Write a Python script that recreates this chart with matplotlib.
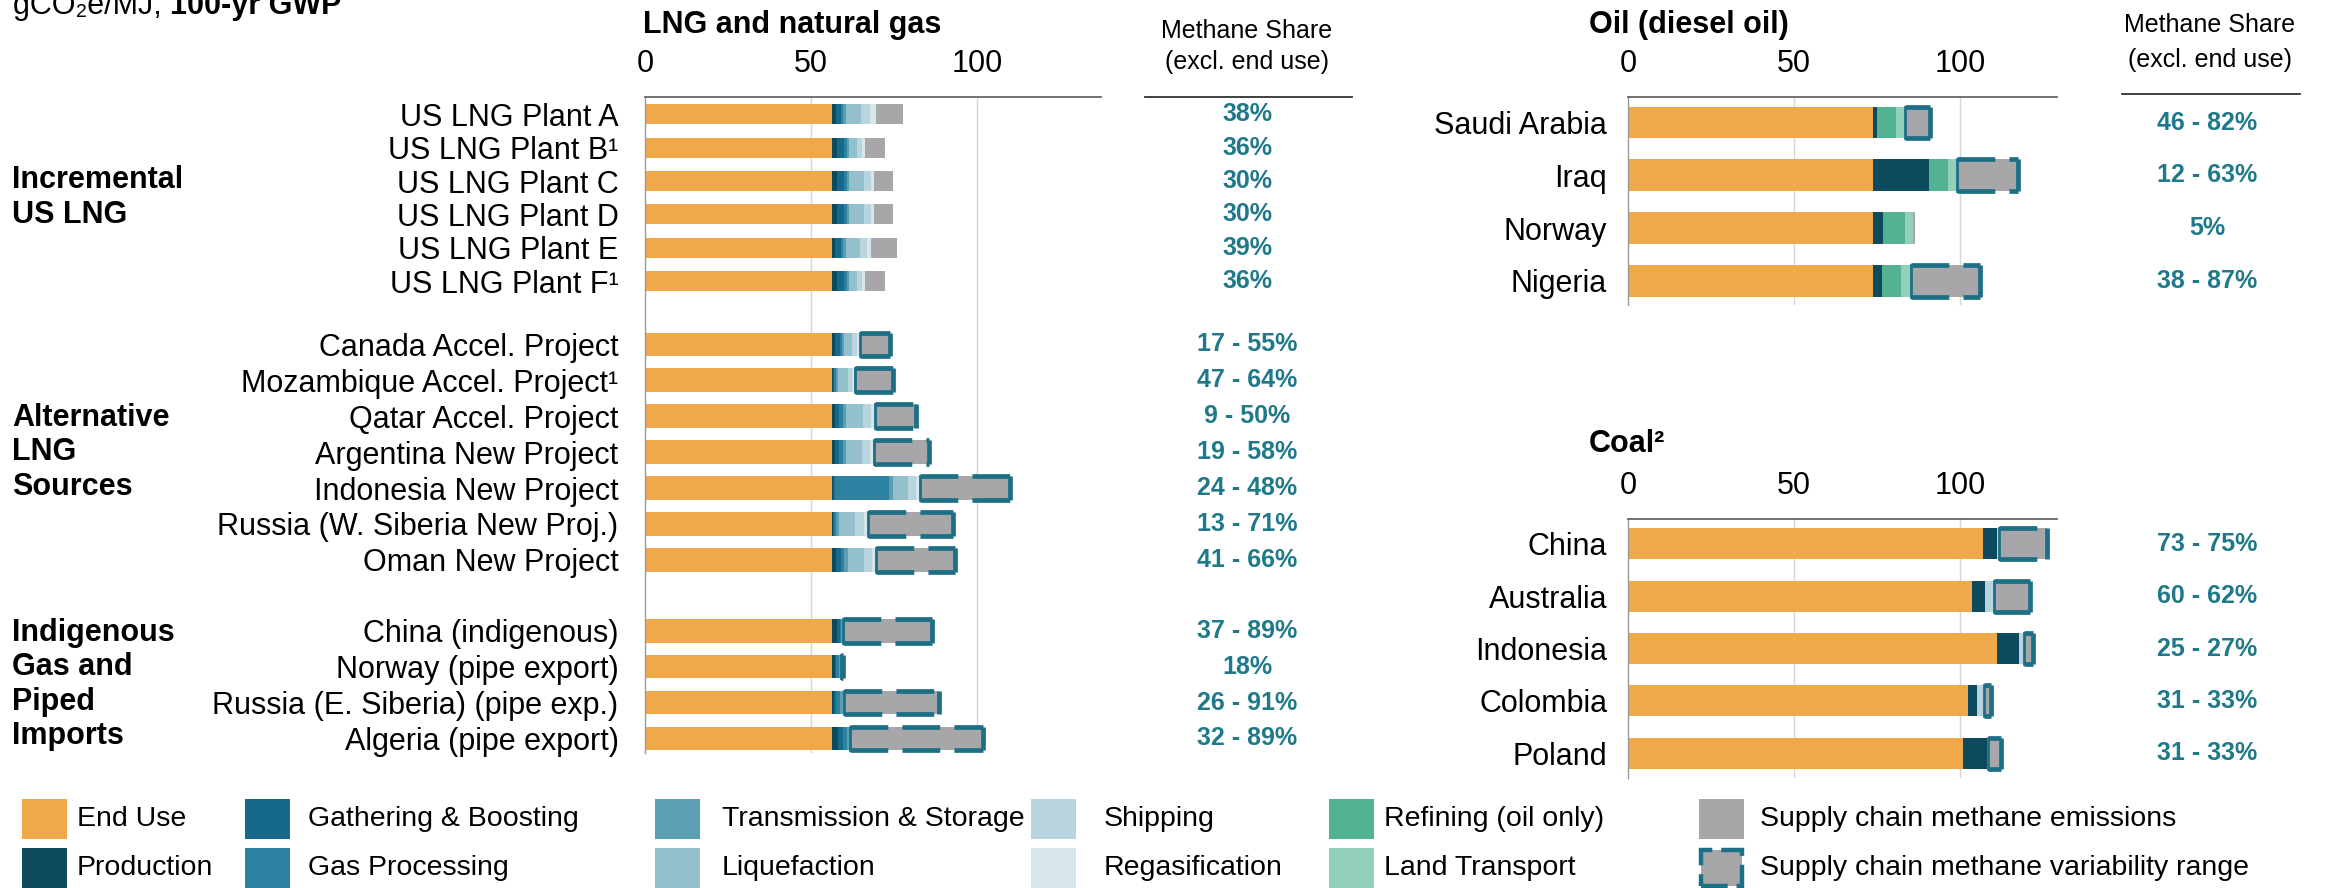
import matplotlib.pyplot as plt
import numpy as np
from matplotlib.patches import Rectangle
from matplotlib.lines import Line2D
from matplotlib.transforms import blended_transform_factory

plt.rcParams['font.family'] = ['Liberation Sans', 'DejaVu Sans']

# ---------------- data ----------------
lng_labels = ['US LNG Plant A', 'US LNG Plant B\u00b9', 'US LNG Plant C', 'US LNG Plant D',
              'US LNG Plant E', 'US LNG Plant F\u00b9',
              'Canada Accel. Project', 'Mozambique Accel. Project\u00b9', 'Qatar Accel. Project',
              'Argentina New Project', 'Indonesia New Project', 'Russia (W. Siberia New Proj.)',
              'Oman New Project',
              'China (indigenous)', 'Norway (pipe export)', 'Russia (E. Siberia) (pipe exp.)',
              'Algeria (pipe export)']
lng_group = [0] * 6 + [1] * 7 + [2] * 4
group_names = ['Incremental\nUS LNG', 'Alternative\nLNG\nSources', 'Indigenous\nGas and\nPiped\nImports']

lng_end_use     = [56.2] * 17
lng_production  = [1.2, 1.5, 1.5, 1.5, 1.1, 1.5, 1.0, 0.5, 1.0, 1.0, 0.5, 0.4, 1.2, 1.5, 1.0, 0.8, 2.0]
lng_gathering   = [1.6, 2.2, 2.2, 2.2, 1.7, 2.2, 1.5, 0.3, 1.3, 1.3, 0.5, 0.4, 1.6, 1.0, 0.3, 0.4, 1.5]
lng_processing  = [0.7, 0.8, 0.8, 0.8, 0.7, 0.8, 0.5, 0.5, 1.0, 1.0, 16.4, 0.5, 1.0, 0.3, 0.8, 1.2, 1.0]
lng_transmission = [0.8, 0.6, 0.8, 0.8, 0.8, 0.6, 0.6, 0.5, 1.0, 1.0, 1.0, 1.0, 1.0, 0.5, 0.8, 1.2, 1.0]
lng_liquefaction = [4.5, 2.4, 4.3, 4.3, 4.3, 2.4, 2.6, 3.0, 5.0, 4.8, 4.5, 4.8, 4.8, 0, 0, 0, 0]
lng_shipping    = [2.8, 1.6, 2.2, 2.2, 2.1, 1.6, 1.4, 1.4, 2.4, 2.3, 2.4, 2.6, 2.5, 0, 0, 0, 0]
lng_regas       = [1.7, 0.9, 1.0, 1.0, 1.1, 0.9, 0.8, 0.8, 1.3, 1.3, 1.3, 1.3, 1.3, 0, 0, 0, 0]
lng_methane     = [8.3, 6.0, 5.6, 5.6, 7.8, 6.0, 9.2, 11.5, 12.3, 16.6, 27.1, 25.6, 23.8, 26.8, 0.6, 28.6, 40.2]
lng_range       = [False] * 6 + [True] * 11
lng_share = ['38%', '36%', '30%', '30%', '39%', '36%', '17 - 55%', '47 - 64%', '9 - 50%',
             '19 - 58%', '24 - 48%', '13 - 71%', '41 - 66%', '37 - 89%', '18%', '26 - 91%', '32 - 89%']

oil_labels     = ['Saudi Arabia', 'Iraq', 'Norway', 'Nigeria']
oil_end_use    = [73.6, 73.6, 73.6, 73.6]
oil_production = [1.2, 17.1, 3.2, 2.7]
oil_refining   = [6.0, 5.5, 6.5, 6.0]
oil_land       = [2.5, 2.7, 2.5, 3.0]
oil_methane    = [7.6, 18.6, 0.6, 20.6]
oil_range      = [True, True, False, True]
oil_share      = ['46 - 82%', '12 - 63%', '5%', '38 - 87%']

coal_labels     = ['China', 'Australia', 'Indonesia', 'Colombia', 'Poland']
coal_end_use    = [106.9, 103.4, 111.1, 102.4, 100.7]
coal_production = [4.0, 4.0, 6.5, 2.5, 7.2]
coal_transport  = [0.8, 2.6, 1.5, 2.2, 0.5]
coal_methane    = [14.3, 11.0, 2.8, 2.2, 3.7]
coal_range      = [True, True, True, True, True]
coal_share      = ['73 - 75%', '60 - 62%', '25 - 27%', '31 - 33%', '31 - 33%']

# ---------------- styles ----------------
C = {
    'End Use': '#EFA84A',
    'Production': '#0D4A5E',
    'Gathering & Boosting': '#16698A',
    'Gas Processing': '#2C81A0',
    'Transmission & Storage': '#5C9FB2',
    'Liquefaction': '#94BFCD',
    'Shipping': '#B7D4DF',
    'Regasification': '#D6E6EB',
    'Refining (oil only)': '#52B292',
    'Land Transport': '#92D0BA',
    'Supply chain methane emissions': '#A7A7A9',
}
RANGE_C = '#1D6F86'
SHARE_C = '#1F798B'
FS = 22

W, H = 2333, 888
fig = plt.figure(figsize=(W / 100, H / 100), dpi=100)


def fx(px):
    return px / W


def fy(py):
    return 1 - py / H


def make_ax(left, right, top, bottom, xmax, ymin, ymax):
    ax = fig.add_axes([fx(left), fy(bottom), (right - left) / W, (bottom - top) / H])
    ax.set_xlim(0, xmax)
    ax.set_ylim(ymax, ymin)
    ax.xaxis.tick_top()
    ax.set_xticks([0, 50, 100])
    ax.tick_params(axis='x', length=0, pad=13, labelsize=FS)
    for s in ['right', 'bottom']:
        ax.spines[s].set_visible(False)
    ax.spines['top'].set_color('#666666')
    ax.spines['top'].set_linewidth(1.3)
    ax.spines['left'].set_color('#999999')
    ax.spines['left'].set_linewidth(1.0)
    for v in [50, 100]:
        ax.axvline(v, color='#d6d6d6', lw=1.0, zorder=0)
    return ax


def draw_stack(ax, y, h, parts, methane, ranged):
    left = np.zeros(len(y))
    for vals, col in parts:
        vals = np.asarray(vals, dtype=float)
        ax.barh(y, vals, left=left, height=h, color=col, linewidth=0, zorder=2)
        left = left + vals
    m = np.asarray(methane, dtype=float)
    ax.barh(y, m, left=left, height=h, color=C['Supply chain methane emissions'], linewidth=0, zorder=2)
    for i in range(len(y)):
        if not ranged[i]:
            continue
        x0, x1 = left[i], left[i] + m[i]
        hh = h[i] / 2 if np.ndim(h) else h / 2
        kw = dict(color=RANGE_C, lw=3.4, zorder=4, solid_capstyle='butt')
        ax.plot([x0, x1], [y[i] - hh, y[i] - hh], ls=(0, (8, 3)), **kw)
        ax.plot([x0, x1], [y[i] + hh, y[i] + hh], ls=(0, (8, 3)), **kw)
        ax.plot([x1, x1], [y[i] - hh, y[i] + hh], **kw)
        ax.plot([x0, x0], [y[i] - hh, y[i] + hh], lw=2.0, color=RANGE_C, zorder=4)


# ---------------- LNG panel ----------------
lng_y = []
pos = 0.0
for i, g in enumerate(lng_group):
    if i > 0:
        if g != lng_group[i - 1]:
            pos += 1.76 if g == 1 else 1.975
        else:
            pos += 0.93 if g == 0 else 1.0
    lng_y.append(pos)
lng_y = np.array(lng_y)
lng_h = np.array([0.56 if g == 0 else 0.66 for g in lng_group])

ax1 = make_ax(645, 1101, 97, 753, 137.3, -0.48, 17.79)
draw_stack(ax1, lng_y, lng_h,
           [(lng_end_use, C['End Use']), (lng_production, C['Production']),
            (lng_gathering, C['Gathering & Boosting']), (lng_processing, C['Gas Processing']),
            (lng_transmission, C['Transmission & Storage']), (lng_liquefaction, C['Liquefaction']),
            (lng_shipping, C['Shipping']), (lng_regas, C['Regasification'])],
           lng_methane, lng_range)
ax1.set_yticks(lng_y, lng_labels)
ax1.tick_params(axis='y', length=0, pad=19, labelsize=FS)

tr1 = blended_transform_factory(fig.transFigure, ax1.transData)
for g, name in enumerate(group_names):
    yc = np.mean([lng_y[i] for i in range(len(lng_y)) if lng_group[i] == g])
    fig.text(fx(12), yc, name, transform=tr1, ha='left', va='center',
             fontsize=FS, fontweight='bold', linespacing=1.2)
for yy, s in zip(lng_y, lng_share):
    fig.text(fx(1247), yy, s, transform=tr1, ha='center', va='center',
             fontsize=18, fontweight='bold', color=SHARE_C)

fig.text(fx(643), fy(25), 'LNG and natural gas', ha='left', va='center', fontsize=FS, fontweight='bold')
fig.text(fx(1247), fy(31), 'Methane Share', ha='center', va='center', fontsize=18)
fig.text(fx(1247), fy(62), '(excl. end use)', ha='center', va='center', fontsize=18)
fig.add_artist(Line2D([fx(1145), fx(1352)], [fy(97.5)] * 2, transform=fig.transFigure, color='#333333', lw=1.3))

# ---------------- Oil panel ----------------
oil_y = np.arange(len(oil_labels))
ax2 = make_ax(1628, 2057, 97, 305, 129.1, -0.484, 3.46)
draw_stack(ax2, oil_y, 0.6,
           [(oil_end_use, C['End Use']), (oil_production, C['Production']),
            (oil_refining, C['Refining (oil only)']), (oil_land, C['Land Transport'])],
           oil_methane, oil_range)
ax2.set_yticks(oil_y, oil_labels)
ax2.tick_params(axis='y', length=0, pad=15, labelsize=FS)
fig.text(fx(1589), fy(25), 'Oil (diesel oil)', ha='left', va='center', fontsize=FS, fontweight='bold')
fig.text(fx(2210), fy(25), 'Methane Share', ha='center', va='center', fontsize=18)
fig.text(fx(2210), fy(60), '(excl. end use)', ha='center', va='center', fontsize=18)
fig.add_artist(Line2D([fx(2122), fx(2300)], [fy(94)] * 2, transform=fig.transFigure, color='#333333', lw=1.3))
tr2 = blended_transform_factory(fig.transFigure, ax2.transData)
for yy, s in zip(oil_y, oil_share):
    fig.text(fx(2207), yy, s, transform=tr2, ha='center', va='center',
             fontsize=18, fontweight='bold', color=SHARE_C)

# ---------------- Coal panel ----------------
coal_y = np.arange(len(coal_labels))
ax3 = make_ax(1628, 2057, 519, 778, 129.1, -0.476, 4.476)
draw_stack(ax3, coal_y, 0.59,
           [(coal_end_use, C['End Use']), (coal_production, C['Production']),
            (coal_transport, C['Shipping'])],
           coal_methane, coal_range)
ax3.set_yticks(coal_y, coal_labels)
ax3.tick_params(axis='y', length=0, pad=15, labelsize=FS)
fig.text(fx(1589), fy(444), 'Coal\u00b2', ha='left', va='center', fontsize=FS, fontweight='bold')
tr3 = blended_transform_factory(fig.transFigure, ax3.transData)
for yy, s in zip(coal_y, coal_share):
    fig.text(fx(2207), yy, s, transform=tr3, ha='center', va='center',
             fontsize=18, fontweight='bold', color=SHARE_C)

# ---------------- unit note (cut off at the top, as in the source) ----------------
t1 = fig.text(fx(13), fy(21), 'gCO\u2082e/MJ, ', ha='left', va='bottom', fontsize=FS)
plt.annotate('100-yr GWP', xy=(1, 0), xycoords=t1, ha='left', va='bottom',
             fontsize=FS, fontweight='bold', annotation_clip=False)

# ---------------- legend ----------------
legend_rows = [
    ['End Use', 'Gathering & Boosting', 'Transmission & Storage', 'Shipping',
     'Refining (oil only)', 'Supply chain methane emissions'],
    ['Production', 'Gas Processing', 'Liquefaction', 'Regasification',
     'Land Transport', 'Supply chain methane variability range'],
]
sq_x = [22, 245, 655, 1031, 1329, 1699]
tx_x = [77, 308, 722, 1104, 1384, 1760]
row_yc = [819, 868]
for r, names in enumerate(legend_rows):
    for c, name in enumerate(names):
        yc = row_yc[r]
        if name == 'Supply chain methane variability range':
            rect = Rectangle((fx(sq_x[c] + 2), fy(yc + 18)), 41 / W, 36 / H, transform=fig.transFigure,
                             facecolor=C['Supply chain methane emissions'], edgecolor=RANGE_C,
                             linewidth=3.2, linestyle=(0, (6, 2)))
        else:
            rect = Rectangle((fx(sq_x[c]), fy(yc + 20)), 45 / W, 40 / H, transform=fig.transFigure,
                             facecolor=C[name], linewidth=0)
        fig.add_artist(rect)
        fig.text(fx(tx_x[c]), fy(yc), name, ha='left', va='center', fontsize=20.5)

fig.savefig('out.png', dpi=100, facecolor='white')
